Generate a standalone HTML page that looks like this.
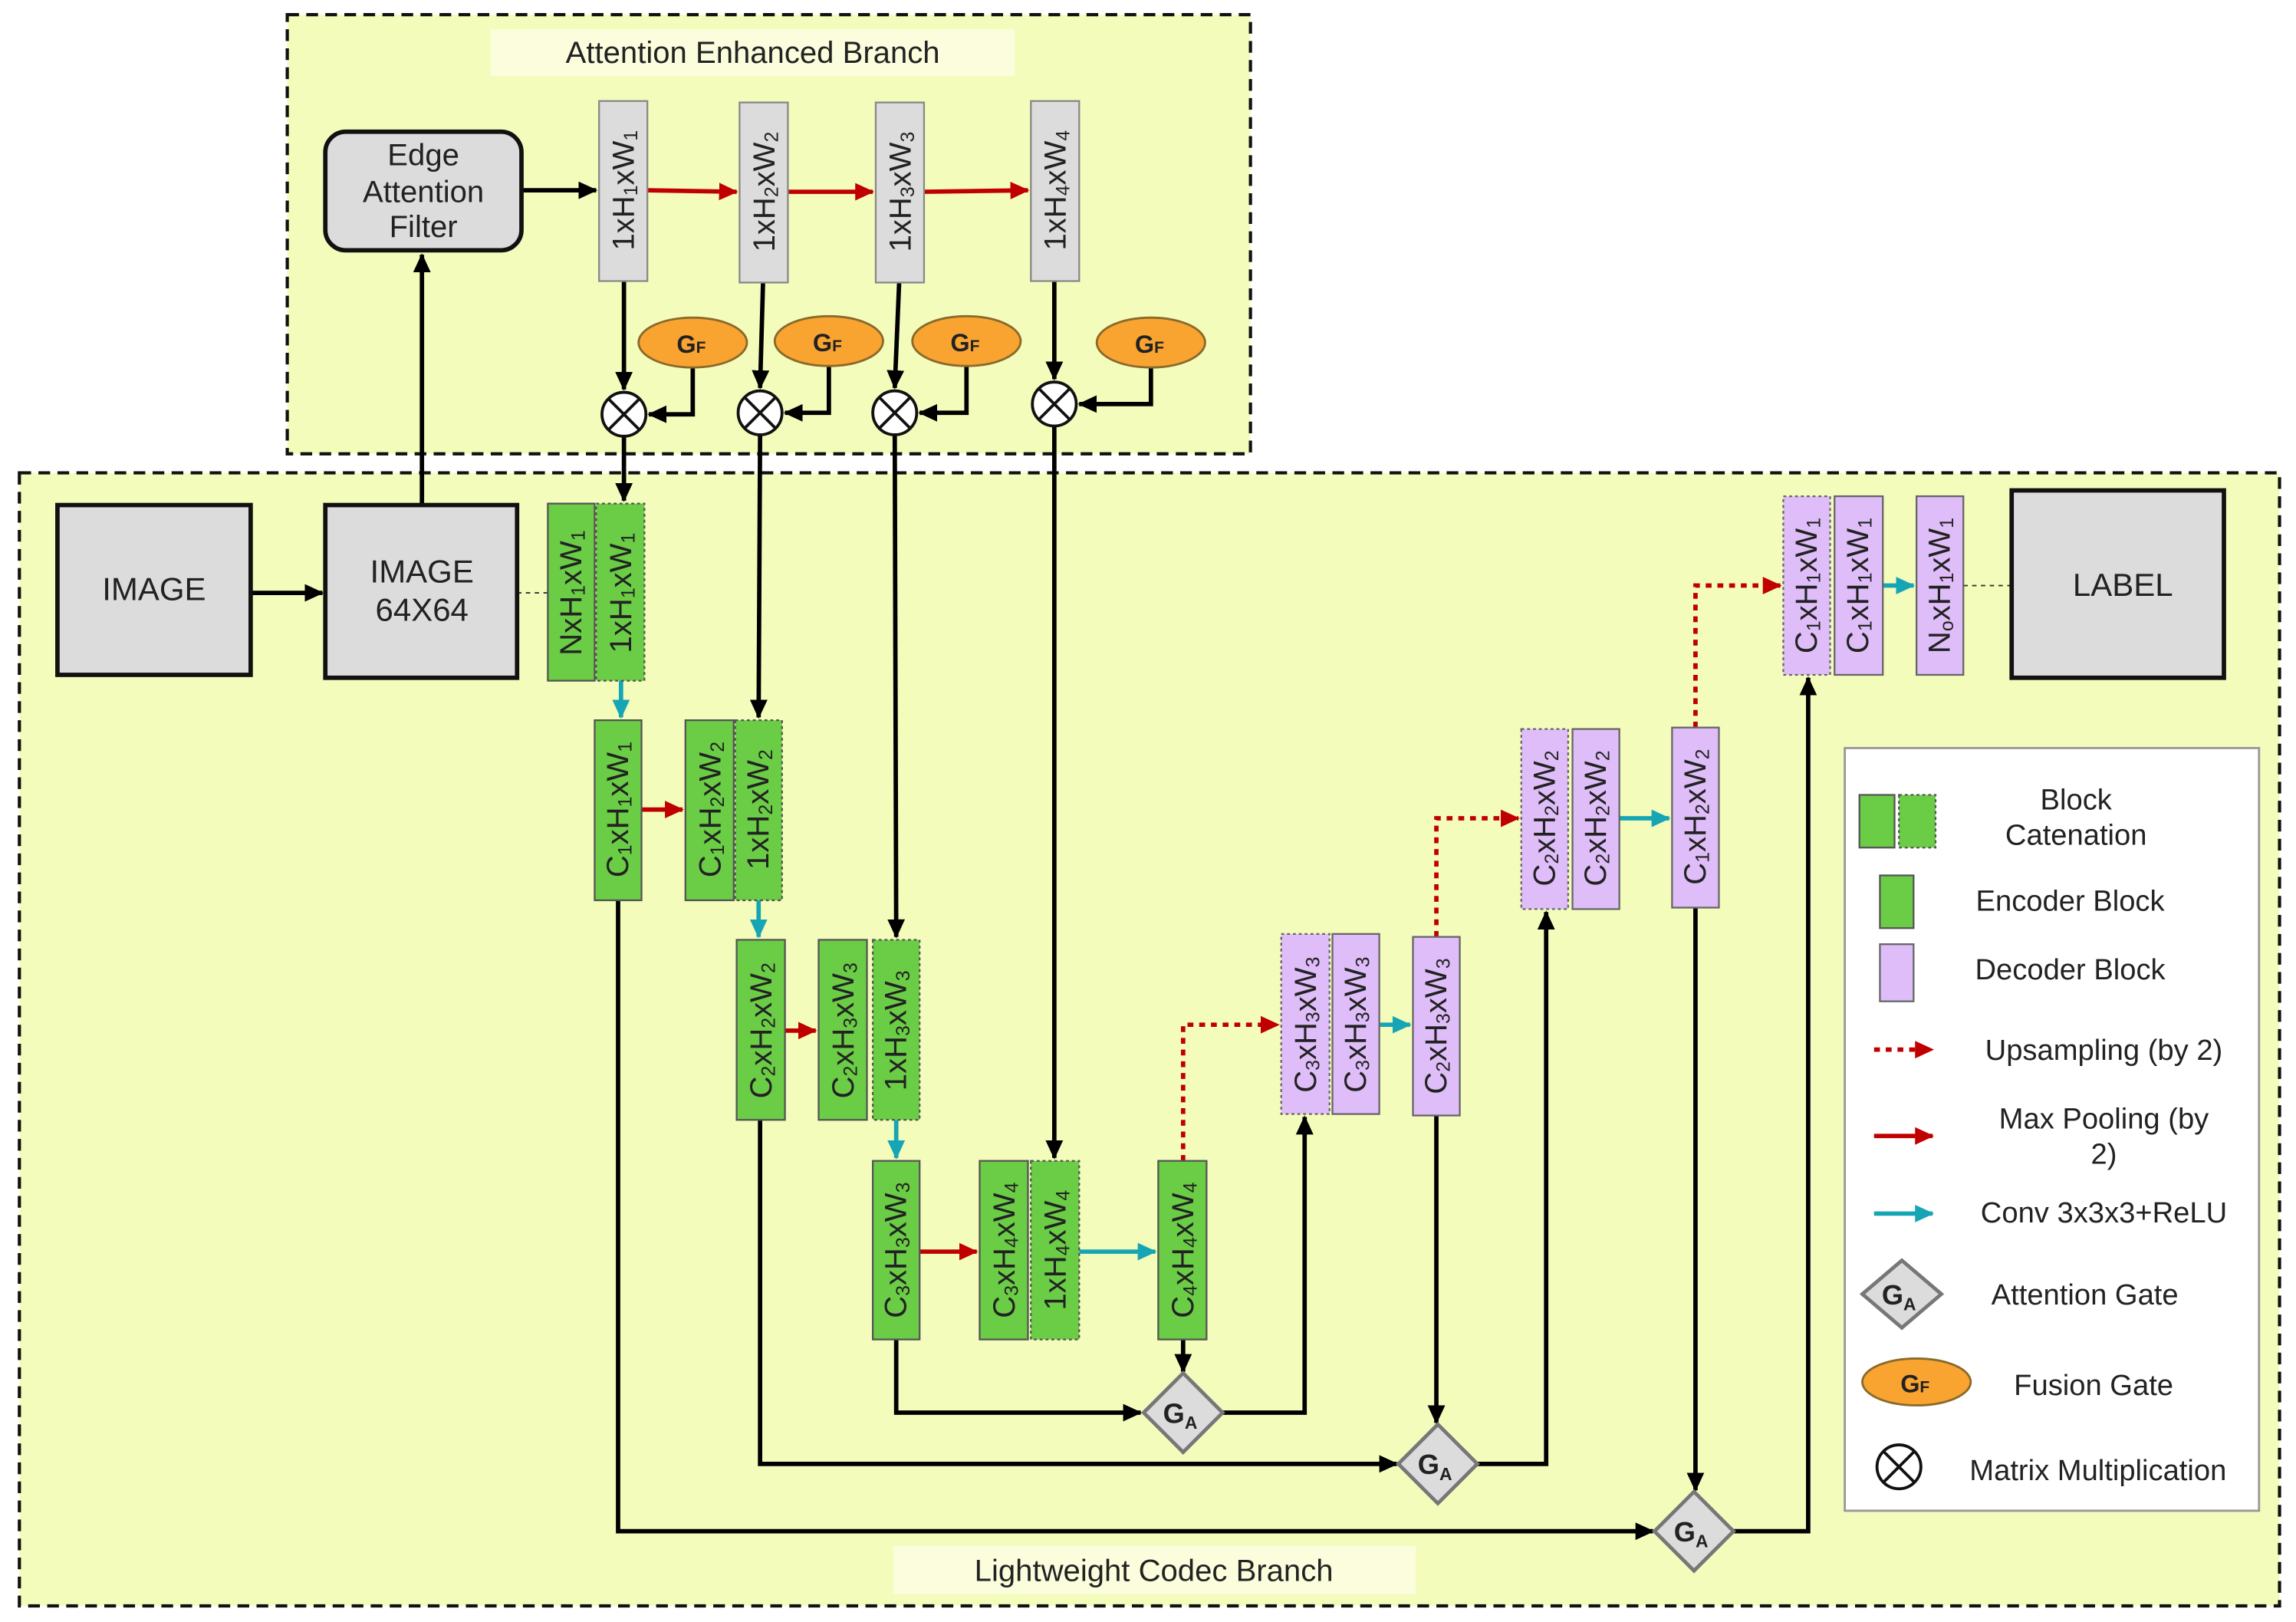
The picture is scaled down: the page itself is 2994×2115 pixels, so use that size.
<!DOCTYPE html>
<html><head><meta charset="utf-8"><style>
html,body{margin:0;padding:0;background:#fff}
svg{display:block}
text{font-family:"Liberation Sans",sans-serif;fill:#222}
</style></head><body>
<svg width="2994" height="2115" viewBox="0 0 1568 1108" xmlns="http://www.w3.org/2000/svg">
<defs>
<marker id="ak" markerUnits="userSpaceOnUse" markerWidth="14" markerHeight="14" refX="12" refY="7" orient="auto"><path d="M0,1 L13,7 L0,13 z" fill="#000"/></marker>
<marker id="ar" markerUnits="userSpaceOnUse" markerWidth="14" markerHeight="14" refX="12" refY="7" orient="auto"><path d="M0,1 L13,7 L0,13 z" fill="#c00000"/></marker>
<marker id="ac" markerUnits="userSpaceOnUse" markerWidth="14" markerHeight="14" refX="12" refY="7" orient="auto"><path d="M0,1 L13,7 L0,13 z" fill="#16a5b5"/></marker>
</defs>
<rect width="1568" height="1108" fill="#fff"/>
<rect x="196" y="10" width="658" height="300" fill="#f4fcbc" stroke="#111" stroke-width="2.2" stroke-dasharray="8,5"/>
<rect x="335" y="20" width="358" height="32" fill="#fbfddc"/>
<text x="514" y="43" font-size="21" text-anchor="middle">Attention Enhanced Branch</text>
<rect x="13" y="323" width="1544" height="774" fill="#f4fcbc" stroke="#111" stroke-width="2.2" stroke-dasharray="8,5"/>
<rect x="610" y="1056" width="357" height="33" fill="#fbfddc"/>
<text x="788" y="1080" font-size="21" text-anchor="middle">Lightweight Codec Branch</text>
<rect x="1260" y="511" width="283" height="521" fill="#fff" stroke="#999" stroke-width="1.5"/>

<g stroke="#000" stroke-width="3" fill="none">
<line x1="356" y1="130" x2="407" y2="130" marker-end="url(#ak)"/>
<line x1="288" y1="345" x2="288" y2="174" marker-end="url(#ak)"/>
<line x1="171" y1="405" x2="220" y2="405" marker-end="url(#ak)"/>
<line x1="426" y1="192" x2="426" y2="266" marker-end="url(#ak)"/>
<line x1="521" y1="193" x2="519" y2="265" marker-end="url(#ak)"/>
<line x1="614" y1="193" x2="611" y2="265" marker-end="url(#ak)"/>
<line x1="720" y1="192" x2="720" y2="259" marker-end="url(#ak)"/>
<polyline points="473,251 473,283 443,283" marker-end="url(#ak)"/>
<polyline points="566,250 566,282 536,282" marker-end="url(#ak)"/>
<polyline points="660,250 660,282 628,282" marker-end="url(#ak)"/>
<polyline points="786,251 786,276 737,276" marker-end="url(#ak)"/>
<line x1="426" y1="298" x2="426" y2="342" marker-end="url(#ak)"/>
<line x1="519" y1="297" x2="518" y2="490" marker-end="url(#ak)"/>
<line x1="611" y1="297" x2="612" y2="640" marker-end="url(#ak)"/>
<line x1="720" y1="291" x2="720" y2="791" marker-end="url(#ak)"/>
<line x1="808" y1="915" x2="808" y2="937" marker-end="url(#ak)"/>
<polyline points="612,915 612,965 779,965" marker-end="url(#ak)"/>
<polyline points="835,965 891,965 891,763" marker-end="url(#ak)"/>
<polyline points="519,765 519,1000 954,1000" marker-end="url(#ak)"/>
<line x1="981" y1="762" x2="981" y2="972" marker-end="url(#ak)"/>
<polyline points="1009,1000 1056,1000 1056,623" marker-end="url(#ak)"/>
<polyline points="422,615 422,1046 1129,1046" marker-end="url(#ak)"/>
<line x1="1158" y1="620" x2="1158" y2="1018" marker-end="url(#ak)"/>
<polyline points="1184,1046 1235,1046 1235,463" marker-end="url(#ak)"/>
</g>
<g stroke="#c00000" stroke-width="3" fill="none">
<line x1="442" y1="130" x2="503" y2="131" marker-end="url(#ar)"/>
<line x1="538" y1="131" x2="596" y2="131" marker-end="url(#ar)"/>
<line x1="631" y1="131" x2="702" y2="130" marker-end="url(#ar)"/>
<line x1="438" y1="553" x2="466" y2="553" marker-end="url(#ar)"/>
<line x1="536" y1="704" x2="557" y2="704" marker-end="url(#ar)"/>
<line x1="628" y1="855" x2="667" y2="855" marker-end="url(#ar)"/>
<g stroke-dasharray="4,4">
<polyline points="808,793 808,700 873,700" marker-end="url(#ar)"/>
<polyline points="981,640 981,559 1037,559" marker-end="url(#ar)"/>
<polyline points="1158,497 1158,400 1216,400" marker-end="url(#ar)"/>
</g>
</g>
<g stroke="#16a5b5" stroke-width="3" fill="none">
<line x1="424" y1="465" x2="424" y2="490" marker-end="url(#ac)"/>
<line x1="518" y1="615" x2="518" y2="640" marker-end="url(#ac)"/>
<line x1="612" y1="765" x2="612" y2="791" marker-end="url(#ac)"/>
<line x1="737" y1="855" x2="789" y2="855" marker-end="url(#ac)"/>
<line x1="942" y1="700" x2="963" y2="700" marker-end="url(#ac)"/>
<line x1="1106" y1="559" x2="1140" y2="559" marker-end="url(#ac)"/>
<line x1="1286" y1="400" x2="1307" y2="400" marker-end="url(#ac)"/>
</g>
<g stroke="#333" stroke-width="1" stroke-dasharray="3,3">
<line x1="353" y1="405" x2="374" y2="405"/>
<line x1="1341" y1="400" x2="1374" y2="400"/>
</g>

<rect x="222" y="90" width="134" height="81" rx="14" fill="#dcdcdc" stroke="#111" stroke-width="3"/>
<text x="289" y="113" font-size="21" text-anchor="middle">Edge</text>
<text x="289" y="138" font-size="21" text-anchor="middle">Attention</text>
<text x="289" y="162" font-size="21" text-anchor="middle">Filter</text>
<rect x="39" y="345" width="132" height="116" fill="#dcdcdc" stroke="#111" stroke-width="3"/>
<text x="105" y="410" font-size="22" text-anchor="middle">IMAGE</text>
<rect x="222" y="345" width="131" height="118" fill="#dcdcdc" stroke="#111" stroke-width="3"/>
<text x="288" y="398" font-size="22" text-anchor="middle">IMAGE</text>
<text x="288" y="424" font-size="22" text-anchor="middle">64X64</text>
<rect x="1374" y="335" width="145" height="128" fill="#dcdcdc" stroke="#111" stroke-width="3"/>
<text x="1450" y="407" font-size="22" text-anchor="middle">LABEL</text>

<g fill="#dcdcdc" stroke="#888" stroke-width="1.2">
<rect x="409" y="69" width="33" height="123"/>
<rect x="505" y="70" width="33" height="123"/>
<rect x="598" y="70" width="33" height="123"/>
<rect x="704" y="69" width="33" height="123"/>
</g>
<g font-size="21" text-anchor="middle" dominant-baseline="central">
<text transform="translate(426,130) rotate(-90)">1xH<tspan font-size="13" dy="5">1</tspan><tspan dy="-5">xW</tspan><tspan font-size="13" dy="5">1</tspan></text>
<text transform="translate(522,131) rotate(-90)">1xH<tspan font-size="13" dy="5">2</tspan><tspan dy="-5">xW</tspan><tspan font-size="13" dy="5">2</tspan></text>
<text transform="translate(615,131) rotate(-90)">1xH<tspan font-size="13" dy="5">3</tspan><tspan dy="-5">xW</tspan><tspan font-size="13" dy="5">3</tspan></text>
<text transform="translate(721,130) rotate(-90)">1xH<tspan font-size="13" dy="5">4</tspan><tspan dy="-5">xW</tspan><tspan font-size="13" dy="5">4</tspan></text>
</g>

<g fill="#f9a431" stroke="#8a6a2a" stroke-width="1.5">
<ellipse cx="473" cy="234" rx="37" ry="17"/>
<ellipse cx="566" cy="233" rx="37" ry="17"/>
<ellipse cx="660" cy="233" rx="37" ry="17"/>
<ellipse cx="786" cy="234" rx="37" ry="17"/>
<ellipse cx="1309" cy="944" rx="37" ry="16"/>
</g>
<g font-size="17" font-weight="bold" text-anchor="middle">
<text x="472" y="241">G<tspan font-size="11">F</tspan></text>
<text x="565" y="240">G<tspan font-size="11">F</tspan></text>
<text x="659" y="240">G<tspan font-size="11">F</tspan></text>
<text x="785" y="241">G<tspan font-size="11">F</tspan></text>
<text x="1308" y="951">G<tspan font-size="11">F</tspan></text>
</g>
<g fill="#fff" stroke="#111" stroke-width="2">
<g><circle cx="426" cy="283" r="15"/><path d="M415.4,272.4 L436.6,293.6 M436.6,272.4 L415.4,293.6"/></g>
<g><circle cx="519" cy="282" r="15"/><path d="M508.4,271.4 L529.6,292.6 M529.6,271.4 L508.4,292.6"/></g>
<g><circle cx="611" cy="282" r="15"/><path d="M600.4,271.4 L621.6,292.6 M621.6,271.4 L600.4,292.6"/></g>
<g><circle cx="720" cy="276" r="15"/><path d="M709.4,265.4 L730.6,286.6 M730.6,265.4 L709.4,286.6"/></g>
<g><circle cx="1297" cy="1002" r="15"/><path d="M1286.4,991.4 L1307.6,1012.6 M1307.6,991.4 L1286.4,1012.6"/></g>
</g>

<g fill="#6acd45" stroke="#555" stroke-width="1.2">
<rect x="374" y="344" width="32" height="121"/>
<rect x="407" y="344" width="33" height="121" stroke-dasharray="2,2"/>
<rect x="406" y="492" width="32" height="123"/>
<rect x="468" y="492" width="33" height="123"/>
<rect x="502" y="492" width="32" height="123" stroke-dasharray="2,2"/>
<rect x="503" y="642" width="33" height="123"/>
<rect x="559" y="642" width="33" height="123"/>
<rect x="596" y="642" width="32" height="123" stroke-dasharray="2,2"/>
<rect x="596" y="793" width="32" height="122"/>
<rect x="669" y="793" width="33" height="122"/>
<rect x="704" y="793" width="33" height="122" stroke-dasharray="2,2"/>
<rect x="791" y="793" width="33" height="122"/>
<rect x="1270" y="543" width="24" height="36"/>
<rect x="1297" y="543" width="25" height="36" stroke-dasharray="2,2"/>
<rect x="1284" y="598" width="23" height="36"/>
</g>
<g fill="#dfbdf9" stroke="#666" stroke-width="1.2">
<rect x="875" y="638" width="33" height="123" stroke-dasharray="2,2"/>
<rect x="910" y="638" width="32" height="123"/>
<rect x="965" y="640" width="32" height="122"/>
<rect x="1039" y="498" width="32" height="123" stroke-dasharray="2,2"/>
<rect x="1074" y="498" width="32" height="123"/>
<rect x="1142" y="497" width="32" height="123"/>
<rect x="1218" y="339" width="32" height="122" stroke-dasharray="2,2"/>
<rect x="1253" y="339" width="33" height="122"/>
<rect x="1309" y="339" width="32" height="122"/>
<rect x="1284" y="645" width="23" height="39"/>
</g>
<g font-size="21" text-anchor="middle" dominant-baseline="central">
<text transform="translate(390,405) rotate(-90)">NxH<tspan font-size="13" dy="5">1</tspan><tspan dy="-5">xW</tspan><tspan font-size="13" dy="5">1</tspan></text>
<text transform="translate(424,405) rotate(-90)">1xH<tspan font-size="13" dy="5">1</tspan><tspan dy="-5">xW</tspan><tspan font-size="13" dy="5">1</tspan></text>
<text transform="translate(422,553) rotate(-90)">C<tspan font-size="13" dy="5">1</tspan><tspan dy="-5">xH</tspan><tspan font-size="13" dy="5">1</tspan><tspan dy="-5">xW</tspan><tspan font-size="13" dy="5">1</tspan></text>
<text transform="translate(485,553) rotate(-90)">C<tspan font-size="13" dy="5">1</tspan><tspan dy="-5">xH</tspan><tspan font-size="13" dy="5">2</tspan><tspan dy="-5">xW</tspan><tspan font-size="13" dy="5">2</tspan></text>
<text transform="translate(518,553) rotate(-90)">1xH<tspan font-size="13" dy="5">2</tspan><tspan dy="-5">xW</tspan><tspan font-size="13" dy="5">2</tspan></text>
<text transform="translate(520,704) rotate(-90)">C<tspan font-size="13" dy="5">2</tspan><tspan dy="-5">xH</tspan><tspan font-size="13" dy="5">2</tspan><tspan dy="-5">xW</tspan><tspan font-size="13" dy="5">2</tspan></text>
<text transform="translate(576,704) rotate(-90)">C<tspan font-size="13" dy="5">2</tspan><tspan dy="-5">xH</tspan><tspan font-size="13" dy="5">3</tspan><tspan dy="-5">xW</tspan><tspan font-size="13" dy="5">3</tspan></text>
<text transform="translate(612,704) rotate(-90)">1xH<tspan font-size="13" dy="5">3</tspan><tspan dy="-5">xW</tspan><tspan font-size="13" dy="5">3</tspan></text>
<text transform="translate(612,854) rotate(-90)">C<tspan font-size="13" dy="5">3</tspan><tspan dy="-5">xH</tspan><tspan font-size="13" dy="5">3</tspan><tspan dy="-5">xW</tspan><tspan font-size="13" dy="5">3</tspan></text>
<text transform="translate(686,854) rotate(-90)">C<tspan font-size="13" dy="5">3</tspan><tspan dy="-5">xH</tspan><tspan font-size="13" dy="5">4</tspan><tspan dy="-5">xW</tspan><tspan font-size="13" dy="5">4</tspan></text>
<text transform="translate(721,854) rotate(-90)">1xH<tspan font-size="13" dy="5">4</tspan><tspan dy="-5">xW</tspan><tspan font-size="13" dy="5">4</tspan></text>
<text transform="translate(808,854) rotate(-90)">C<tspan font-size="13" dy="5">4</tspan><tspan dy="-5">xH</tspan><tspan font-size="13" dy="5">4</tspan><tspan dy="-5">xW</tspan><tspan font-size="13" dy="5">4</tspan></text>
<text transform="translate(892,700) rotate(-90)">C<tspan font-size="13" dy="5">3</tspan><tspan dy="-5">xH</tspan><tspan font-size="13" dy="5">3</tspan><tspan dy="-5">xW</tspan><tspan font-size="13" dy="5">3</tspan></text>
<text transform="translate(926,700) rotate(-90)">C<tspan font-size="13" dy="5">3</tspan><tspan dy="-5">xH</tspan><tspan font-size="13" dy="5">3</tspan><tspan dy="-5">xW</tspan><tspan font-size="13" dy="5">3</tspan></text>
<text transform="translate(981,701) rotate(-90)">C<tspan font-size="13" dy="5">2</tspan><tspan dy="-5">xH</tspan><tspan font-size="13" dy="5">3</tspan><tspan dy="-5">xW</tspan><tspan font-size="13" dy="5">3</tspan></text>
<text transform="translate(1055,559) rotate(-90)">C<tspan font-size="13" dy="5">2</tspan><tspan dy="-5">xH</tspan><tspan font-size="13" dy="5">2</tspan><tspan dy="-5">xW</tspan><tspan font-size="13" dy="5">2</tspan></text>
<text transform="translate(1090,559) rotate(-90)">C<tspan font-size="13" dy="5">2</tspan><tspan dy="-5">xH</tspan><tspan font-size="13" dy="5">2</tspan><tspan dy="-5">xW</tspan><tspan font-size="13" dy="5">2</tspan></text>
<text transform="translate(1158,558) rotate(-90)">C<tspan font-size="13" dy="5">1</tspan><tspan dy="-5">xH</tspan><tspan font-size="13" dy="5">2</tspan><tspan dy="-5">xW</tspan><tspan font-size="13" dy="5">2</tspan></text>
<text transform="translate(1234,400) rotate(-90)">C<tspan font-size="13" dy="5">1</tspan><tspan dy="-5">xH</tspan><tspan font-size="13" dy="5">1</tspan><tspan dy="-5">xW</tspan><tspan font-size="13" dy="5">1</tspan></text>
<text transform="translate(1269,400) rotate(-90)">C<tspan font-size="13" dy="5">1</tspan><tspan dy="-5">xH</tspan><tspan font-size="13" dy="5">1</tspan><tspan dy="-5">xW</tspan><tspan font-size="13" dy="5">1</tspan></text>
<text transform="translate(1325,400) rotate(-90)">N<tspan font-size="13" dy="5">o</tspan><tspan dy="-5">xH</tspan><tspan font-size="13" dy="5">1</tspan><tspan dy="-5">xW</tspan><tspan font-size="13" dy="5">1</tspan></text>
</g>

<g fill="#dcdcdc" stroke="#777" stroke-width="2.5">
<path d="M808,938 L835,965 L808,992 L781,965 z"/>
<path d="M982,973 L1009,1000 L982,1027 L955,1000 z"/>
<path d="M1157,1019 L1184,1046 L1157,1073 L1130,1046 z"/>
<path d="M1299,861 L1326,884 L1299,907 L1272,884 z"/>
</g>
<g font-size="19" font-weight="bold" text-anchor="middle">
<text x="806" y="972">G<tspan font-size="12" dy="4">A</tspan></text>
<text x="980" y="1007">G<tspan font-size="12" dy="4">A</tspan></text>
<text x="1155" y="1053">G<tspan font-size="12" dy="4">A</tspan></text>
<text x="1297" y="891">G<tspan font-size="12" dy="4">A</tspan></text>
</g>

<g stroke-width="3" fill="none">
<line x1="1280" y1="717" x2="1320" y2="717" stroke="#c00000" stroke-dasharray="4,4" marker-end="url(#ar)"/>
<line x1="1280" y1="776" x2="1320" y2="776" stroke="#c00000" marker-end="url(#ar)"/>
<line x1="1280" y1="829" x2="1320" y2="829" stroke="#16a5b5" marker-end="url(#ac)"/>
</g>
<g font-size="20" fill="#333" text-anchor="middle">
<text x="1418" y="553">Block</text>
<text x="1418" y="577">Catenation</text>
<text x="1414" y="622">Encoder Block</text>
<text x="1414" y="669">Decoder Block</text>
<text x="1437" y="724">Upsampling (by 2)</text>
<text x="1437" y="771">Max Pooling (by</text>
<text x="1437" y="795">2)</text>
<text x="1437" y="835">Conv 3x3x3+ReLU</text>
<text x="1424" y="891">Attention Gate</text>
<text x="1430" y="953">Fusion Gate</text>
<text x="1433" y="1011">Matrix Multiplication</text>
</g>
</svg>
</body></html>
